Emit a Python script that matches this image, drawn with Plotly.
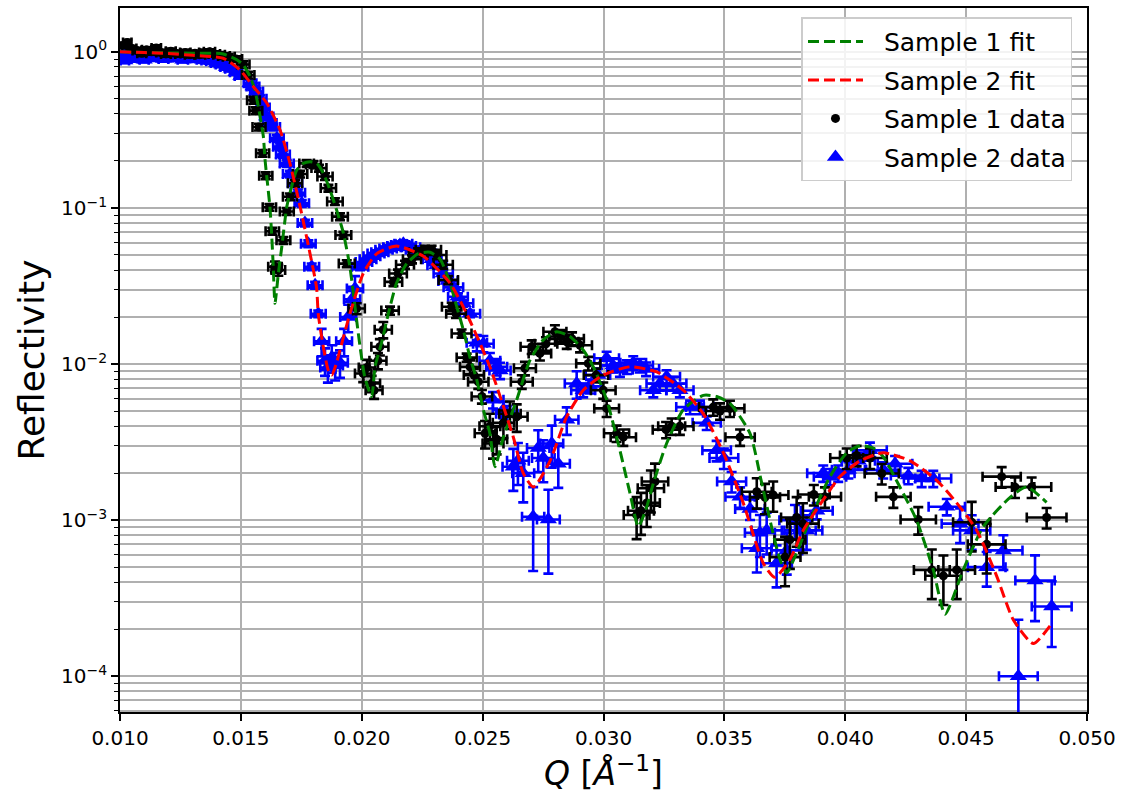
import plotly.graph_objects as go

# ---------------- data ----------------
# Sample 1 data (black)
q1 = [0.0101, 0.0103, 0.0105, 0.0107, 0.0109, 0.0111, 0.0113, 0.0115, 0.0117, 0.0119,
      0.0121, 0.0123, 0.0125, 0.0127, 0.0129, 0.0131, 0.0133, 0.0135, 0.0137, 0.0139,
      0.0141, 0.0143, 0.0145, 0.0148, 0.0151, 0.0153, 0.01552, 0.01562, 0.01575, 0.01590,
      0.01603, 0.01618, 0.01630, 0.01641, 0.01655, 0.01676, 0.01690, 0.01703, 0.01724, 0.01745,
      0.01772, 0.01800, 0.01823, 0.01848, 0.01862, 0.01889, 0.01910, 0.01924, 0.01938, 0.01979,
      0.02006, 0.02022, 0.02041, 0.02051, 0.02067, 0.02075, 0.02089, 0.02117, 0.02131, 0.02150,
      0.02179, 0.02208, 0.02233, 0.02262, 0.02289, 0.02311, 0.02337, 0.02358, 0.02372, 0.02390,
      0.02413, 0.02434, 0.02448, 0.02464, 0.02482, 0.02497, 0.02510, 0.02530, 0.02543, 0.02558,
      0.02586, 0.02613, 0.02641, 0.02662, 0.02675, 0.02703, 0.02737, 0.02762, 0.02799, 0.02824,
      0.02848, 0.02870, 0.02903, 0.02937, 0.02969, 0.02999, 0.03013, 0.03054, 0.03082, 0.03137,
      0.03155, 0.03179, 0.03196, 0.03213, 0.03259, 0.03282, 0.03316, 0.03454, 0.03482, 0.03523,
      0.03565, 0.03634, 0.03668, 0.03702, 0.03751, 0.03771, 0.03799, 0.03825, 0.03870, 0.03916,
      0.04006, 0.04047, 0.04102, 0.04151, 0.04199, 0.04302, 0.04358, 0.04406, 0.04461, 0.04523,
      0.04585, 0.04647, 0.04702, 0.04771, 0.04833]
r1 = [1.10, 1.15, 1.05, 1.02, 0.98, 1.03, 1.00, 1.06, 0.99, 0.97,
      1.01, 0.98, 0.97, 0.99, 0.96, 0.98, 0.96, 0.99, 1.00, 0.97,
      0.96, 0.94, 0.93, 0.90, 0.83, 0.71, 0.49, 0.42, 0.33, 0.224,
      0.161, 0.101, 0.071, 0.042, 0.040, 0.062, 0.095, 0.118, 0.144, 0.165,
      0.193, 0.190, 0.180, 0.159, 0.134, 0.110, 0.088, 0.067, 0.044, 0.0227,
      0.0087, 0.0095, 0.0075, 0.0068, 0.0105, 0.0129, 0.0166, 0.022, 0.0336, 0.038,
      0.0433, 0.047, 0.052, 0.054, 0.054, 0.050, 0.0433, 0.0346, 0.0233, 0.021,
      0.0157, 0.011, 0.0096, 0.0085, 0.0077, 0.0062, 0.0036, 0.0040, 0.0031, 0.0033,
      0.0042, 0.0048, 0.0046, 0.0077, 0.0094, 0.0129, 0.0117, 0.0135, 0.0161, 0.0150,
      0.0139, 0.0145, 0.0132, 0.0101, 0.0085, 0.0068, 0.0052, 0.0036, 0.0034, 0.00108,
      0.00115, 0.00129, 0.0016, 0.00177, 0.0038, 0.0040, 0.0040, 0.0053, 0.0050, 0.0052,
      0.0034, 0.00152, 0.0014, 0.00145, 0.00058, 0.00075, 0.00104, 0.00095, 0.00146, 0.00141,
      0.0025, 0.0026, 0.0025, 0.00199, 0.00141, 0.00101, 0.00048, 0.00044, 0.00048, 0.00097,
      0.00070, 0.0019, 0.00163, 0.00163, 0.00104]
r1_rel_err = ([0.04] * 24 + [0.05] * 9 + [0.08] * 2 + [0.05] * 14 + [0.08] + [0.12] * 7
              + [0.06] * 15 + [0.10] * 4 + [0.20] * 7 + [0.10] * 12 + [0.12] * 4 + [0.30] * 5
              + [0.12] * 7 + [0.22] * 3 + [0.35] * 4 + [0.15] * 7 + [0.20] + [0.35] * 5 + [0.15] * 4)

# Sample 2 data (blue)
q2 = [0.0101, 0.0102, 0.0104, 0.0106, 0.0108, 0.0110, 0.0112, 0.0114, 0.0116, 0.0118,
      0.0120, 0.0122, 0.0124, 0.0126, 0.0128, 0.0130, 0.0132, 0.0134, 0.0136, 0.0138,
      0.0140, 0.0142, 0.0144, 0.0146, 0.0148, 0.0150, 0.01538, 0.01550, 0.01565, 0.01579,
      0.01592, 0.01607, 0.01620, 0.01634, 0.01649, 0.01662, 0.01674, 0.01690, 0.01703, 0.01724,
      0.01736, 0.01752, 0.01765, 0.01779, 0.01793, 0.01807, 0.01820, 0.01834, 0.01848, 0.01860,
      0.01876, 0.01890, 0.01910, 0.01927, 0.01944, 0.01960, 0.01972, 0.01993, 0.02009, 0.02026,
      0.02042, 0.02059, 0.02075, 0.02092, 0.02109, 0.02125, 0.02142, 0.02158, 0.02172, 0.02187,
      0.02204, 0.02220, 0.02241, 0.02269, 0.02291, 0.02311, 0.02337, 0.02357, 0.02379, 0.02398,
      0.02420, 0.02448, 0.02476, 0.02503, 0.02530, 0.02543, 0.02558, 0.02572, 0.02586, 0.02600,
      0.02627, 0.02646, 0.02668, 0.02709, 0.02730, 0.02751, 0.02772, 0.02786, 0.02813, 0.02848,
      0.02889, 0.02916, 0.02944, 0.02977, 0.03013, 0.03039, 0.03068, 0.03097, 0.03123, 0.03151,
      0.03176, 0.03206, 0.03233, 0.03261, 0.03287, 0.03316, 0.03358, 0.03399, 0.03427, 0.03468,
      0.03498, 0.03530, 0.03565, 0.03606, 0.03634, 0.03647, 0.03675, 0.03716, 0.03758, 0.03792,
      0.03813, 0.03840, 0.03882, 0.03909, 0.03937, 0.03971, 0.04013, 0.04054, 0.04102, 0.04157,
      0.04206, 0.04261, 0.04316, 0.04364, 0.04420, 0.04475, 0.04523, 0.04585, 0.04654, 0.04716,
      0.04785, 0.04854]
r2 = [0.95, 0.88, 0.97, 0.90, 0.93, 0.89, 0.95, 0.91, 0.93, 0.90,
      0.94, 0.91, 0.92, 0.89, 0.93, 0.90, 0.91, 0.89, 0.88, 0.87,
      0.85, 0.83, 0.80, 0.78, 0.74, 0.70, 0.63, 0.60, 0.557, 0.50,
      0.44, 0.385, 0.35, 0.33, 0.28, 0.247, 0.22, 0.193, 0.165, 0.144,
      0.125, 0.107, 0.080, 0.059, 0.042, 0.032, 0.021, 0.014, 0.0105, 0.0095,
      0.011, 0.0098, 0.0102, 0.014, 0.020, 0.026, 0.0305, 0.042, 0.045, 0.047,
      0.049, 0.051, 0.052, 0.054, 0.055, 0.056, 0.057, 0.058, 0.059, 0.057,
      0.056, 0.054, 0.053, 0.051, 0.047, 0.043, 0.038, 0.034, 0.031, 0.027,
      0.0245, 0.021, 0.0137, 0.0135, 0.0105, 0.0059, 0.0096, 0.0091, 0.0051, 0.0048,
      0.0022, 0.0024, 0.0020, 0.00105, 0.0029, 0.0025, 0.00101, 0.0031, 0.0023, 0.0044,
      0.0075, 0.0068, 0.0072, 0.0085, 0.0109, 0.0098, 0.0092, 0.0096, 0.0102, 0.0098,
      0.0093, 0.0068, 0.0075, 0.0083, 0.0075, 0.0068, 0.0053, 0.0053, 0.0042, 0.0028,
      0.0025, 0.00177, 0.00141, 0.00118, 0.00066, 0.00083, 0.00086, 0.00053, 0.00064, 0.0010,
      0.00086, 0.00086, 0.00115, 0.0020, 0.0019, 0.0020, 0.0021, 0.0024, 0.0028, 0.0021,
      0.0023, 0.00193, 0.00185, 0.00185, 0.00122, 0.00095, 0.00086, 0.00050, 0.00064, 0.00010,
      0.00041, 0.00028]
r2_rel_err = ([0.04] * 26 + [0.05] * 21 + [0.20] * 10 + [0.05] * 25 + [0.12] * 8
              + [0.30, 0.30, 0.35, 0.55, 0.30, 0.30, 0.55, 0.30, 0.30]
              + [0.20] * 2 + [0.10] * 18 + [0.15] * 5 + [0.30] * 5 + [0.25] * 3
              + [0.12] * 13 + [0.25] * 4 + [1.30, 0.45, 0.45])

# Q resolution (dQ/Q) used for horizontal error bars
dq_over_q = 0.017

# Fit curves
q_fit1 = [0.0100, 0.0110, 0.0120, 0.0130, 0.01427, 0.01483, 0.0151, 0.01538, 0.01558, 0.01572,
          0.01582, 0.01593, 0.0160, 0.01607, 0.0162, 0.01627, 0.01634, 0.01641, 0.01655, 0.01669,
          0.0169, 0.0171, 0.01731, 0.01758, 0.01786, 0.01814, 0.01841, 0.01869, 0.01896, 0.01924,
          0.01951, 0.01979, 0.01993, 0.02013, 0.02041, 0.02055, 0.02082, 0.0211, 0.02144, 0.02186,
          0.02234, 0.02282, 0.02324, 0.02365, 0.02393, 0.0242, 0.02448, 0.02476, 0.02503, 0.0253,
          0.02551, 0.02586, 0.02641, 0.02696, 0.02751, 0.02806, 0.02861, 0.02916, 0.02958, 0.03013,
          0.03068, 0.0311, 0.03144, 0.03179, 0.03206, 0.03261, 0.0333, 0.03413, 0.03468, 0.03523,
          0.03606, 0.03652, 0.03697, 0.0373, 0.03758, 0.03799, 0.03854, 0.03937, 0.04006, 0.04061,
          0.04116, 0.04157, 0.04226, 0.04295, 0.04364, 0.04413, 0.04488, 0.04571, 0.04682, 0.0475,
          0.04833]
r_fit1 = [1.00, 0.99, 0.985, 0.98, 0.97, 0.89, 0.825, 0.695, 0.57, 0.446,
          0.367, 0.287, 0.203, 0.159, 0.102, 0.069, 0.042, 0.0245, 0.038, 0.056,
          0.102, 0.137, 0.175, 0.193, 0.198, 0.193, 0.167, 0.130, 0.097, 0.069,
          0.042, 0.019, 0.0129, 0.0082, 0.0062, 0.0096, 0.0137, 0.021, 0.033, 0.044,
          0.051, 0.052, 0.047, 0.033, 0.0233, 0.0166, 0.011, 0.0079, 0.0051, 0.0036,
          0.0022, 0.0034, 0.0059, 0.0106, 0.0143, 0.0161, 0.0150, 0.0123, 0.0096, 0.0059,
          0.0028, 0.00148, 0.00091, 0.00122, 0.00172, 0.0031, 0.0051, 0.0063, 0.0062, 0.0056,
          0.0036, 0.0018, 0.00088, 0.00056, 0.00046, 0.00062, 0.0010, 0.0019, 0.0027, 0.0030,
          0.0029, 0.00255, 0.00163, 0.0010, 0.00048, 0.00025, 0.00048, 0.00091, 0.0014, 0.00163,
          0.0013]

q_fit2 = [0.0100, 0.0110, 0.0120, 0.0130, 0.01427, 0.01496, 0.01551, 0.01607, 0.01662, 0.01703,
          0.01745, 0.01786, 0.01813, 0.0182, 0.01841, 0.01862, 0.01876, 0.01896, 0.0191, 0.01951,
          0.02006, 0.02062, 0.02144, 0.02255, 0.02365, 0.02434, 0.0253, 0.02627, 0.02668, 0.0271,
          0.02779, 0.02848, 0.02916, 0.02999, 0.0311, 0.0322, 0.0333, 0.03413, 0.03496, 0.03578,
          0.03661, 0.03709, 0.03771, 0.03826, 0.03909, 0.03978, 0.04061, 0.04157, 0.04268, 0.04378,
          0.04461, 0.04544, 0.04626, 0.04695, 0.04778, 0.04847]
r_fit2 = [1.00, 0.99, 0.975, 0.95, 0.91, 0.767, 0.60, 0.47, 0.316, 0.193,
          0.102, 0.051, 0.031, 0.021, 0.0129, 0.0091, 0.0085, 0.0102, 0.0123, 0.021,
          0.038, 0.051, 0.057, 0.049, 0.033, 0.021, 0.0096, 0.0034, 0.0020, 0.00163,
          0.0024, 0.0046, 0.0068, 0.0085, 0.0096, 0.0089, 0.0068, 0.0048, 0.0027, 0.00129,
          0.00053, 0.00043, 0.00056, 0.00086, 0.00135, 0.0019, 0.0024, 0.0027, 0.0024, 0.0018,
          0.00129, 0.00086, 0.00044, 0.00023, 0.000162, 0.00021]

y_tick_vals = [1e-4, 1e-3, 1e-2, 1e-1, 1]
y_tick_text = ["10<sup>\u22124</sup>", "10<sup>\u22123</sup>", "10<sup>\u22122</sup>",
               "10<sup>\u22121</sup>", "10<sup>0</sup>"]
x_tick_vals = [0.010, 0.015, 0.020, 0.025, 0.030, 0.035, 0.040, 0.045, 0.050]

# ---------------- figure ----------------
FONT = "DejaVu Sans"
GRID = "#b0b0b0"
PAD = "\u00a0\u00a0"


def err_arrays(r, rel):
    plus = [v * e for v, e in zip(r, rel)]
    minus = [v * min(e, 0.6) for v, e in zip(r, rel)]
    return plus, minus


fig = go.Figure()

p2, m2 = err_arrays(r2, r2_rel_err)
fig.add_trace(go.Scatter(
    x=q2, y=r2, mode="markers", name=PAD + "Sample 2 data", legendrank=4, legendgroup="d",
    marker=dict(symbol="triangle-up", size=15, color="blue"),
    error_y=dict(type="data", symmetric=False, array=p2, arrayminus=m2,
                 color="blue", thickness=2.6, width=5),
    error_x=dict(type="data", array=[q * dq_over_q for q in q2],
                 color="blue", thickness=2.6, width=5),
))

p1, m1 = err_arrays(r1, r1_rel_err)
fig.add_trace(go.Scatter(
    x=q1, y=r1, mode="markers", name=PAD + "Sample 1 data", legendrank=3, legendgroup="c",
    marker=dict(symbol="circle", size=9, color="black"),
    error_y=dict(type="data", symmetric=False, array=p1, arrayminus=m1,
                 color="black", thickness=2.6, width=5),
    error_x=dict(type="data", array=[q * dq_over_q for q in q1],
                 color="black", thickness=2.6, width=5),
))

fig.add_trace(go.Scatter(
    x=q_fit1, y=r_fit1, mode="lines", name=PAD + "Sample 1 fit", legendrank=1, legendgroup="a",
    line=dict(color="green", width=3, dash="11px,5px", shape="spline", smoothing=0.6),
))
fig.add_trace(go.Scatter(
    x=q_fit2, y=r_fit2, mode="lines", name=PAD + "Sample 2 fit", legendrank=2, legendgroup="b",
    line=dict(color="red", width=3, dash="11px,5px", shape="spline", smoothing=0.6),
))

minor_vals = [k * 10.0 ** e for e in range(-5, 1) for k in range(2, 10)]

fig.update_layout(
    width=1122, height=796,
    margin=dict(l=120, r=35, t=8, b=84, autoexpand=False),
    paper_bgcolor="white", plot_bgcolor="white",
    font=dict(family=FONT, color="black", size=20),
    showlegend=True,
    legend=dict(
        x=0.985, y=0.987, xanchor="right", yanchor="top",
        bgcolor="rgba(255,255,255,0.85)", bordercolor="#cccccc", borderwidth=1.5,
        font=dict(family=FONT, size=25, color="black"),
        traceorder="grouped", tracegroupgap=3, itemwidth=55,
    ),
)

fig.update_xaxes(
    range=[0.010, 0.050], tickmode="array", tickvals=x_tick_vals, tickformat=".3f",
    showline=True, linecolor="black", linewidth=1.6, mirror=True,
    ticks="outside", ticklen=7, tickwidth=1.6, tickcolor="black",
    showgrid=True, gridcolor=GRID, gridwidth=1.5, zeroline=False,
    tickfont=dict(family=FONT, size=20),
    title=dict(text="<i>Q</i> [<i>Å</i><sup>\u22121</sup>]", font=dict(family=FONT, size=33), standoff=6),
    automargin=False,
)
fig.update_yaxes(
    type="log", range=[-4.229, 0.281],
    tickmode="array", tickvals=y_tick_vals, ticktext=y_tick_text,
    showline=True, linecolor="black", linewidth=1.6, mirror=True,
    ticks="outside", ticklen=7, tickwidth=1.6, tickcolor="black",
    showgrid=True, gridcolor=GRID, gridwidth=1.5, zeroline=False,
    tickfont=dict(family=FONT, size=20),
    minor=dict(tickmode="array", tickvals=minor_vals, ticks="outside", ticklen=4,
               tickwidth=1.2, tickcolor="black", showgrid=True, gridcolor=GRID, gridwidth=1.5),
    title=dict(text="Reflectivity", font=dict(family=FONT, size=36), standoff=6),
    automargin=False,
)

fig.write_html("out.html")
